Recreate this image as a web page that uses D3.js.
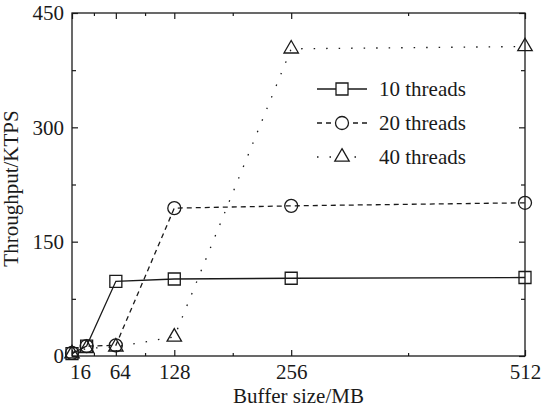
<!DOCTYPE html>
<html>
<head>
<meta charset="utf-8">
<script src="https://cdn.jsdelivr.net/npm/d3@7"></script>
<style>
  body { margin: 0; background: #fff; }
  svg text { font-family: "Liberation Serif", "Times New Roman", serif; fill: #1a1a1a; }
</style>
</head>
<body>
<div id="chart"></div>
<script>
// Buffer sizes (MB) and throughput (KTPS) per thread count
const bufferSizes = [16, 32, 64, 128, 256, 512];
const threads10 = [3, 13, 98, 101, 102, 103];
const threads20 = [4, 13, 14, 194, 197, 201];
const threads40 = [3, 10, 12, 25, 403, 406];

const xMajorTicks = [16, 64, 128, 256, 512];
const xMinorTicks = [40, 96, 192, 384];
const yMajorTicks = [0, 150, 300, 450];
const yMinorTicks = [75, 225, 375];

const seriesNames = ["10 threads", "20 threads", "40 threads"];

function renderThroughputChart() {
	const margin = {top: 13, right: 19, bottom: 58, left: 72};
	const width = 544 - margin.left - margin.right;
	const height = 414 - margin.top - margin.bottom;
	const ink = "#1a1a1a";
	const fontSize = "21px";

	const svg = d3.select("#chart")
		.append("svg")
		.attr("width", 544)
		.attr("height", 414)
		.append("g")
		.attr("transform", `translate(${margin.left},${margin.top})`);

	const x = d3.scaleLinear().domain([16, 512]).range([0, width]);
	const y = d3.scaleLinear().domain([0, 450]).range([height, 0]);

	// Axes: ticks point inward on all four sides
	function styleAxis(g) {
		g.select(".domain").remove();
		g.selectAll(".tick line").attr("stroke", ink).attr("stroke-width", 1.2);
		g.selectAll(".tick text").style("font-size", fontSize).attr("fill", ink);
	}

	svg.append("g")
		.attr("transform", `translate(0,${height})`)
		.call(d3.axisBottom(x).tickValues(xMajorTicks).tickSize(-6).tickPadding(8).tickFormat(d3.format("d")))
		.call(styleAxis)
		.call(g => g.selectAll(".tick text").filter(d => d === 16).attr("dx", 8))
		.call(g => g.selectAll(".tick text").filter(d => d === 64).attr("dx", 4));

	svg.append("g")
		.attr("transform", `translate(0,${height})`)
		.call(d3.axisBottom(x).tickValues(xMinorTicks).tickSize(-3).tickFormat(""))
		.call(styleAxis);

	svg.append("g")
		.call(d3.axisTop(x).tickValues(xMajorTicks).tickSize(-6).tickFormat(""))
		.call(styleAxis);

	svg.append("g")
		.call(d3.axisTop(x).tickValues(xMinorTicks).tickSize(-3).tickFormat(""))
		.call(styleAxis);

	svg.append("g")
		.call(d3.axisLeft(y).tickValues(yMajorTicks).tickSize(-6).tickPadding(8))
		.call(styleAxis);

	svg.append("g")
		.call(d3.axisLeft(y).tickValues(yMinorTicks).tickSize(-4).tickFormat(""))
		.call(styleAxis);

	svg.append("g")
		.attr("transform", `translate(${width},0)`)
		.call(d3.axisRight(y).tickValues(yMajorTicks).tickSize(-6).tickFormat(""))
		.call(styleAxis);

	svg.append("g")
		.attr("transform", `translate(${width},0)`)
		.call(d3.axisRight(y).tickValues(yMinorTicks).tickSize(-4).tickFormat(""))
		.call(styleAxis);

	// Plot frame
	svg.append("rect")
		.attr("width", width)
		.attr("height", height)
		.attr("fill", "none")
		.attr("stroke", ink)
		.attr("stroke-width", 1.3);

	// Axis titles
	svg.append("text")
		.attr("x", width / 2)
		.attr("y", height + 47)
		.attr("text-anchor", "middle")
		.style("font-size", fontSize)
		.text("Buffer size/MB");

	svg.append("text")
		.attr("transform", "rotate(-90)")
		.attr("x", -height / 2 - 4)
		.attr("y", -54)
		.attr("text-anchor", "middle")
		.style("font-size", fontSize)
		.text("Throughput/KTPS");

	// Marker shapes
	const symbols = [
		d3.symbol().type(d3.symbolSquare).size(144),
		d3.symbol().type(d3.symbolCircle).size(Math.PI * 6.5 * 6.5),
		d3.symbol().type(d3.symbolTriangle).size(90)
	];
	const dashes = [null, "5,4", "1.5,11"];

	const series = [threads10, threads20, threads40].map((vals, i) => ({
		name: seriesNames[i],
		points: vals.map((v, j) => ({size: bufferSizes[j], value: v})),
		symbol: symbols[i],
		dash: dashes[i]
	}));

	const line = d3.line()
		.x(d => x(d.size))
		.y(d => y(d.value));

	series.forEach(s => {
		svg.append("path")
			.datum(s.points)
			.attr("fill", "none")
			.attr("stroke", ink)
			.attr("stroke-width", 1.3)
			.attr("stroke-dasharray", s.dash)
			.attr("d", line);

		svg.selectAll(null)
			.data(s.points)
			.enter()
			.append("path")
			.attr("transform", d => `translate(${x(d.size)},${y(d.value)})`)
			.attr("d", s.symbol)
			.attr("fill", "none")
			.attr("stroke", ink)
			.attr("stroke-width", 1.3);
	});

	// Legend
	const legend = svg.append("g")
		.attr("transform", "translate(245,76)");

	series.forEach((s, i) => {
		const row = legend.append("g")
			.attr("transform", `translate(0,${i * 34})`);

		row.append("line")
			.attr("x1", 0)
			.attr("x2", 50)
			.attr("stroke", ink)
			.attr("stroke-width", 1.3)
			.attr("stroke-dasharray", s.dash);

		row.append("path")
			.attr("transform", "translate(25,0)")
			.attr("d", s.symbol)
			.attr("fill", "#fff")
			.attr("stroke", ink)
			.attr("stroke-width", 1.3);

		row.append("text")
			.attr("x", 62)
			.attr("dy", "0.35em")
			.style("font-size", fontSize)
			.text(s.name);
	});
}

renderThroughputChart();
</script>
</body>
</html>
